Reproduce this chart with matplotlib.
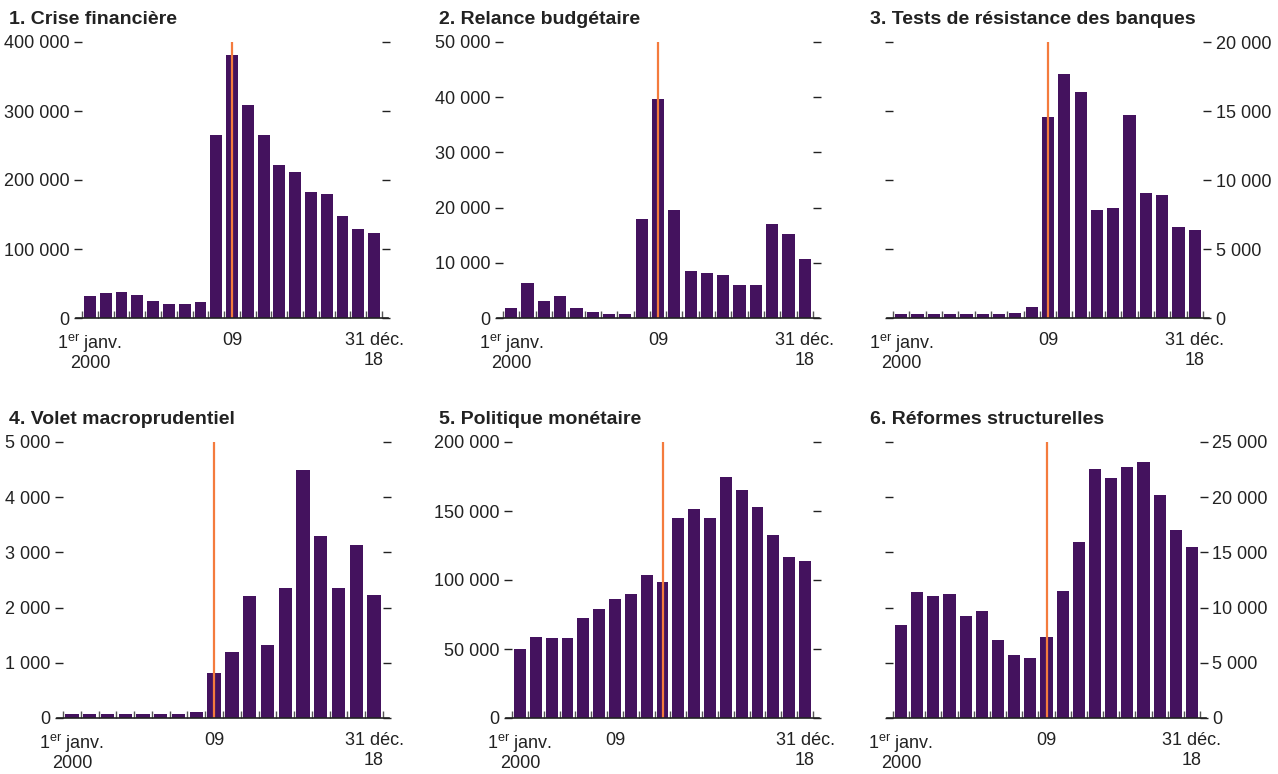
import numpy as np
import matplotlib.pyplot as plt
from matplotlib.ticker import FuncFormatter, FixedLocator

plt.rcParams['font.family'] = ['Liberation Sans', 'DejaVu Sans']
plt.rcParams['mathtext.fontset'] = 'custom'
plt.rcParams['mathtext.rm'] = 'Liberation Sans'

# données (une barre par année, 2000 -> 2018)
titles = ["1. Crise financière", "2. Relance budgétaire", "3. Tests de résistance des banques",
          "4. Volet macroprudentiel", "5. Politique monétaire", "6. Réformes structurelles"]

crise = [31300, 36600, 38100, 33700, 25100, 20700, 20700, 23600, 265000, 380700,
         308400, 265000, 221700, 211600, 182700, 179800, 148000, 129200, 123400]
relance = [1870, 6390, 3130, 4040, 1870, 1140, 780, 780, 17950, 39640,
           19580, 8550, 8190, 7830, 6020, 6020, 17050, 15240, 10720]
tests = [310, 310, 310, 310, 310, 310, 310, 390, 820, 14550,
         17660, 16360, 7830, 7980, 14700, 9060, 8920, 6600, 6390]
macro = [80, 80, 80, 80, 80, 80, 80, 115, 820, 1200,
         2210, 1325, 2355, 4490, 3295, 2355, 3135, 2230]
monetaire = [50100, 58800, 58100, 58100, 72500, 79000, 86300, 89900, 103600, 98600,
             144800, 151300, 144800, 174500, 165100, 152800, 132500, 116600, 113700]
reformes = [8430, 11420, 11050, 11240, 9250, 9700, 7080, 5720, 5450, 7350,
            11510, 15930, 22530, 21720, 22710, 23160, 20180, 17020, 15480]

series = [crise, relance, tests, macro, monetaire, reformes]
ymax = [400000, 50000, 20000, 5000, 200000, 25000]
ystep = [100000, 10000, 5000, 1000, 50000, 5000]
label_pos = [[0, 9, 18], [0, 9, 18], [0, 9, 18], [0, 8, 17], [0, 6, 18], [0, 9, 18]]
crisis_pos = [9, 9, 9, 8, 9, 9]
right_labels = [False, False, True, False, False, True]
xlabels = ["1$^{\\rm er}$ janv.\n2000", "09", "31 déc.\n18"]

# positions des axes en pixels (gauche, droite, haut, bas)
W, H = 1278, 774
boxes = [(82, 382, 42, 318), (503, 813, 42, 318), (893, 1203, 42, 318),
         (63, 383, 442, 718), (512, 813, 442, 718), (893, 1200, 442, 718)]
title_x = [9, 439, 870, 9, 439, 870]
title_y = [24, 24, 24, 424, 424, 424]

bar_color = "#44125e"
line_color = "#f47b3d"

fig = plt.figure(figsize=(W / 100, H / 100), dpi=100)

for i, vals in enumerate(series):
    l, r, t, b = boxes[i]
    ax = fig.add_axes([l / W, 1 - b / H, (r - l) / W, (b - t) / H])
    n = len(vals)
    x = np.arange(n) + 0.5
    ax.bar(x, vals, width=0.75, color=bar_color, zorder=2)
    ax.plot([crisis_pos[i] + 0.5] * 2, [0, ymax[i]], color=line_color, lw=1.6, zorder=3,
            solid_capstyle="butt")
    ax.set_xlim(0, n)
    ax.set_ylim(0, ymax[i])

    for s in ["left", "right", "top", "bottom"]:
        ax.spines[s].set_visible(False)
    ext = 6 / (r - l)
    ax.axhline(0, xmin=-ext, xmax=1 + ext, color="#222222", lw=1.2, clip_on=False, zorder=4)

    ax.yaxis.set_major_locator(FixedLocator(np.arange(0, ymax[i] + 1, ystep[i])))
    ax.yaxis.set_major_formatter(FuncFormatter(lambda v, p: f"{int(v):,}".replace(",", " ")))
    ax.tick_params(axis="y", direction="out", length=6, width=1, color="#222222",
                   labelsize=13, labelcolor="#222222", pad=3,
                   left=True, right=True,
                   labelleft=not right_labels[i], labelright=right_labels[i])

    ax.set_xticks([p + 0.5 for p in label_pos[i]])
    tl = ax.set_xticklabels(xlabels)
    tl[0].set_linespacing(1.05)
    tl[2].set_linespacing(1.25)
    ax.set_xticks(np.arange(n + 1), minor=True)
    ax.tick_params(axis="x", which="major", length=0, labelsize=13, labelcolor="#222222", pad=10)
    ax.tick_params(axis="x", which="minor", direction="in", length=5, width=1, color="#555555")

    fig.text(title_x[i] / W, 1 - title_y[i] / H, titles[i], fontsize=14, fontweight="bold",
             color="#222222", ha="left", va="baseline")

fig.savefig("out.png", dpi=100)
